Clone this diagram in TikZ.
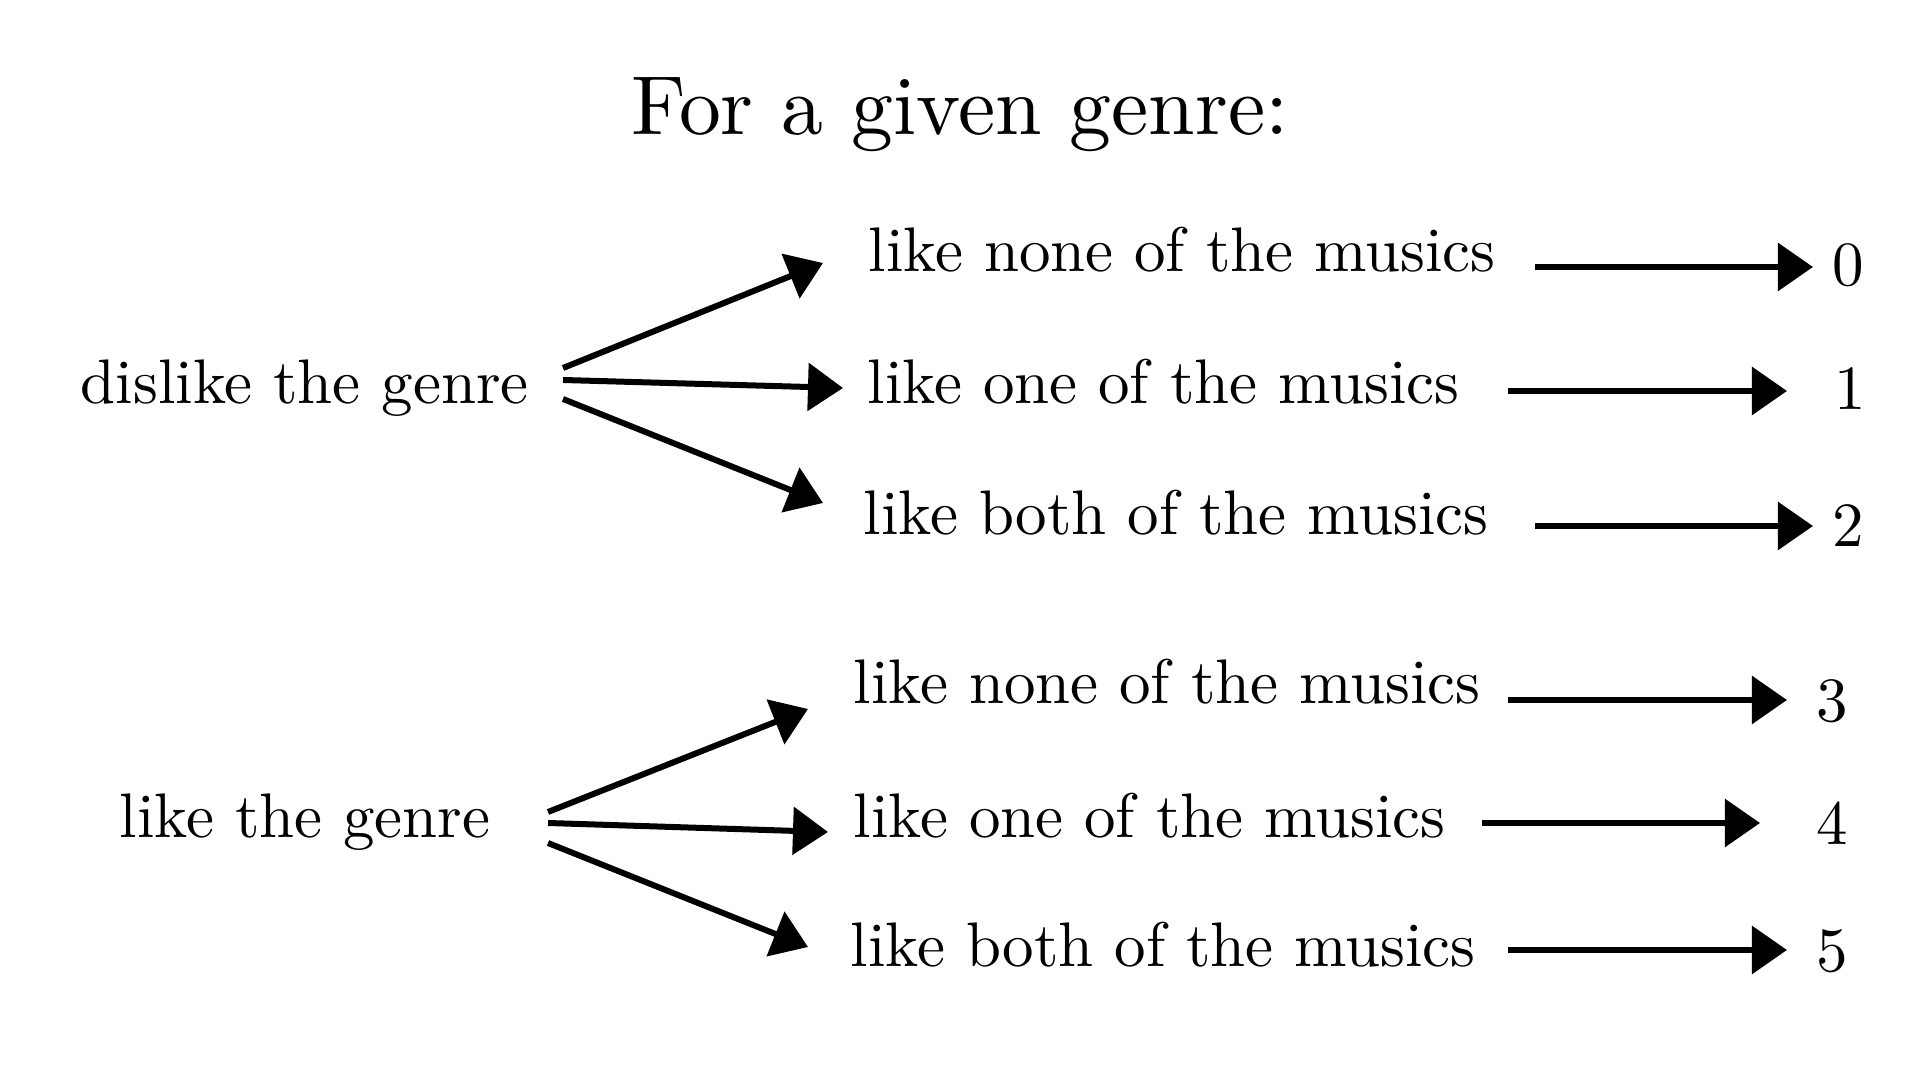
\documentclass[tikz,border=0pt]{standalone}
\usetikzlibrary{arrows.meta}
\newcommand{\bodytxt}[1]{\scalebox{1.79}{\fontsize{10}{12}\selectfont #1}}
\newcommand{\titletxt}[1]{\scalebox{2.38}{\fontsize{10}{12}\selectfont #1}}
\begin{document}
\begin{tikzpicture}[x=0.01cm,y=-0.01cm,
  lbl/.style={inner sep=0pt,anchor=base west},
  num/.style={inner sep=0pt,anchor=base},
  ttl/.style={inner sep=0pt,anchor=base},
  arr/.style={line width=0.06cm,-{Triangle[length=0.35cm,width=0.47cm]}}]
\useasboundingbox (0,0) rectangle (1920,1080);
\node[ttl] (title) at (960,135) {\titletxt{For a given genre:}};
% left labels
\node[lbl] (dis) at (80,404) {\bodytxt{dislike the genre}};
\node[lbl] (lik) at (119,838) {\bodytxt{like the genre}};
% middle labels
\node[lbl] (a0) at (868,272) {\bodytxt{like none of the musics}};
\node[lbl] (a1) at (867,404) {\bodytxt{like one of the musics}};
\node[lbl] (a2) at (863,535) {\bodytxt{like both of the musics}};
\node[lbl] (b0) at (853,704) {\bodytxt{like none of the musics}};
\node[lbl] (b1) at (853,838) {\bodytxt{like one of the musics}};
\node[lbl] (b2) at (850,967) {\bodytxt{like both of the musics}};
% numbers
\node[num] (n0) at (1848,286) {\bodytxt{0}};
\node[num] (n1) at (1850,410) {\bodytxt{1}};
\node[num] (n2) at (1848,547) {\bodytxt{2}};
\node[num] (n3) at (1832,722) {\bodytxt{3}};
\node[num] (n4) at (1832,845) {\bodytxt{4}};
\node[num] (n5) at (1832,972) {\bodytxt{5}};
% connector end points
\coordinate (dis0) at (563,368);
\coordinate (dis1) at (563,380);
\coordinate (dis2) at (563,399);
\coordinate (a0in) at (823,263);
\coordinate (a1in) at (843,388);
\coordinate (a2in) at (823,503);
\coordinate (lik0) at (548,812);
\coordinate (lik1) at (548,823);
\coordinate (lik2) at (548,843);
\coordinate (b0in) at (808,709);
\coordinate (b1in) at (828,832);
\coordinate (b2in) at (808,947);
\coordinate (a0out) at (1535,267);
\coordinate (n0in) at (1813,267);
\coordinate (a1out) at (1508,391);
\coordinate (n1in) at (1787,391);
\coordinate (a2out) at (1535,526);
\coordinate (n2in) at (1813,526);
\coordinate (b0out) at (1508,700);
\coordinate (n3in) at (1787,700);
\coordinate (b1out) at (1482,823);
\coordinate (n4in) at (1760,823);
\coordinate (b2out) at (1508,950);
\coordinate (n5in) at (1787,950);
% connectors
\draw[arr] (dis0) -- (a0in);
\draw[arr] (dis1) -- (a1in);
\draw[arr] (dis2) -- (a2in);
\draw[arr] (lik0) -- (b0in);
\draw[arr] (lik1) -- (b1in);
\draw[arr] (lik2) -- (b2in);
\draw[arr] (a0out) -- (n0in);
\draw[arr] (a1out) -- (n1in);
\draw[arr] (a2out) -- (n2in);
\draw[arr] (b0out) -- (n3in);
\draw[arr] (b1out) -- (n4in);
\draw[arr] (b2out) -- (n5in);
\end{tikzpicture}
\end{document}
